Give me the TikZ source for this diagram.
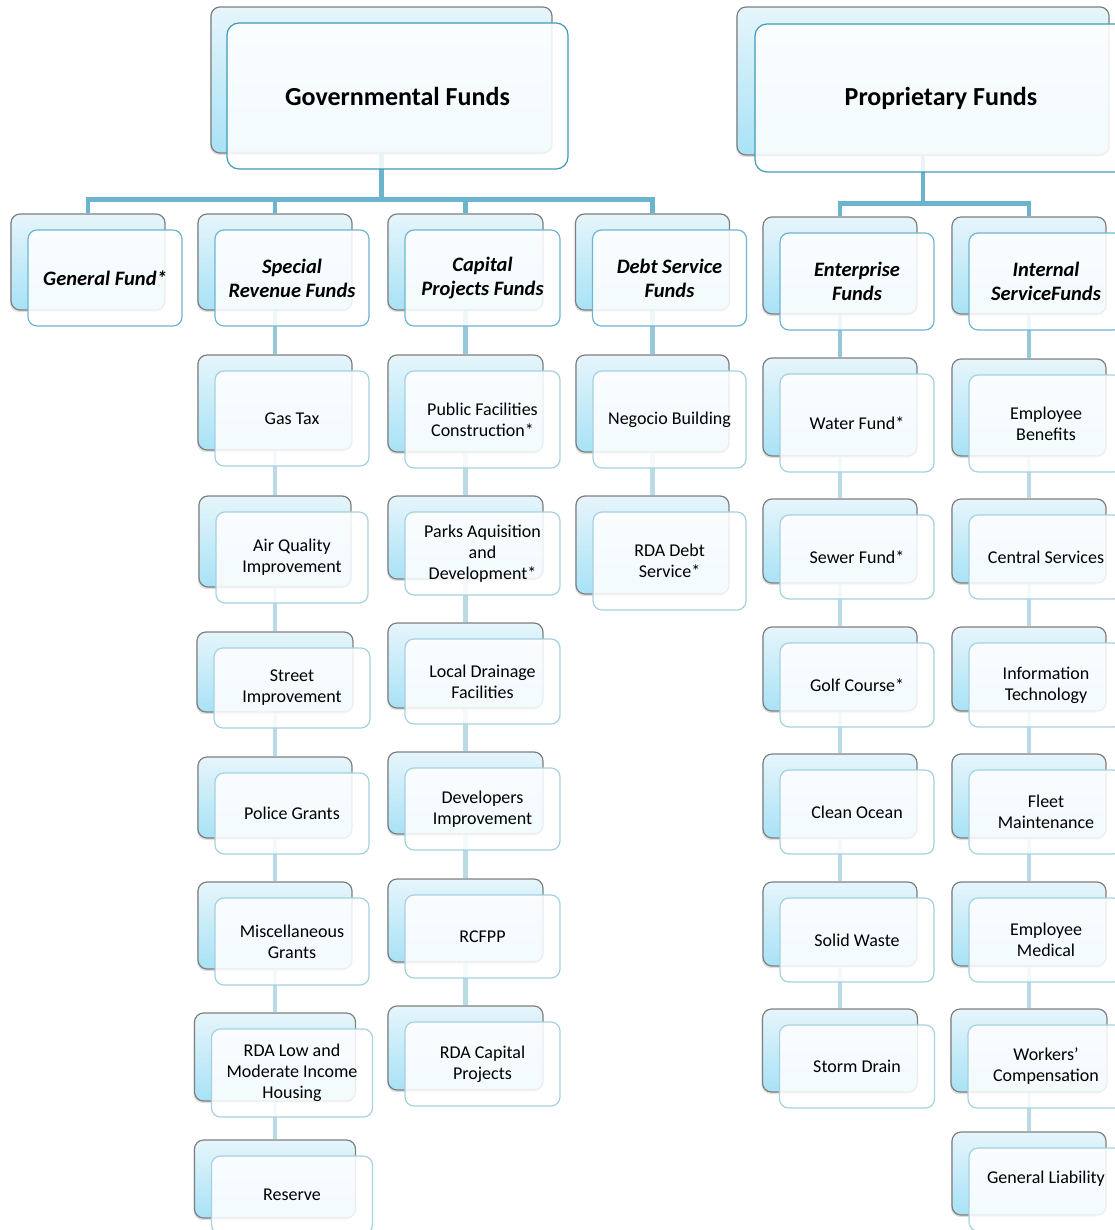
\documentclass[tikz,border=0pt]{standalone}
\usepackage{fontspec}
\setmainfont{Carlito}
\usetikzlibrary{shadows}

\definecolor{backline}{HTML}{7F7F7F}
\definecolor{backtop}{HTML}{E6F5FB}
\definecolor{backbot}{HTML}{A8E2F6}
\definecolor{rootline}{HTML}{3F9AB8}
\definecolor{headline}{HTML}{6CB7D0}
\definecolor{itemline}{HTML}{A6D1E0}
\definecolor{barcol}{HTML}{6AB4CD}
\definecolor{stemcol}{HTML}{96C8D9}
\definecolor{chaincol}{HTML}{BADAE5}

\pgfdeclarelayer{links}
\pgfsetlayers{links,main}

\begin{document}
\begin{tikzpicture}[
  x=1pt, y=-1pt,
  box/.style 2 args={minimum width=#1pt, minimum height=#2pt},
  back/.style={draw=backline, line width=1.2pt, rounded corners=9pt,
    top color=backtop, bottom color=backbot, inner sep=0pt,
    drop shadow={opacity=0.25, shadow xshift=-1pt, shadow yshift=-2pt}},
  front/.style={draw=itemline, line width=1.2pt, rounded corners=9pt,
    fill=white, fill opacity=0.86, text opacity=1, inner sep=0pt,
    align=center, font=\fontsize{18}{21}\selectfont},
  head/.style={front, draw=headline,
    font=\fontsize{20.5}{24}\selectfont\bfseries\itshape},
  root/.style={front, draw=rootline, rounded corners=12pt,
    font=\fontsize{26}{30}\selectfont\bfseries},
  % the three kinds of connector: root bar, head stem, column chain
  bar/.style={draw=barcol, line width=4.5pt},
  stem/.style={draw=stemcol, line width=4.5pt},
  chain/.style={draw=chaincol, line width=4.5pt}]

  \useasboundingbox (0,0) rectangle (1115,1230);

  % roots
  \node[back, box={341}{146}] (govB) at (381.5,80) {};
  \node[root, box={341}{146}] (gov) at ([shift={(16,16)}]govB) {Governmental Funds};
  \node[back, box={372}{148}] (propB) at (923,81) {};
  \node[root, box={372}{148}] (prop) at ([shift={(18,17)}]propB) {Proprietary Funds};

  % fund types
  \node[back, box={154}{96}] (genB) at (88,262) {};
  \node[head, box={154}{96}] (gen) at ([shift={(17,16)}]genB) {General Fund*};
  \node[back, box={154}{96}] (specB) at (275,262) {};
  \node[head, box={154}{96}] (spec) at ([shift={(17,16)}]specB) {Special\\Revenue Funds};
  \node[back, box={155}{96}] (capB) at (465.5,262) {};
  \node[head, box={155}{96}] (cap) at ([shift={(17,16)}]capB) {Capital\\Projects Funds};
  \node[back, box={154}{96}] (debtB) at (652.5,262) {};
  \node[head, box={154}{96}] (debt) at ([shift={(17,16)}]debtB) {Debt Service\\Funds};
  \node[back, box={154}{97}] (entB) at (840,265.5) {};
  \node[head, box={154}{97}] (ent) at ([shift={(17,16)}]entB) {Enterprise\\Funds};
  \node[back, box={154}{97}] (intB) at (1029,265.5) {};
  \node[head, box={154}{97}] (int) at ([shift={(17,16)}]intB) {Internal\\ServiceFunds};

  % special revenue
  \node[back, box={154}{95}] (gasB) at (275,402.5) {};
  \node[front, box={154}{95}] (gas) at ([shift={(17,16)}]gasB) {Gas Tax};
  \node[back, box={152}{91}] (airB) at (275,541.5) {};
  \node[front, box={152}{91}] (air) at ([shift={(17,16)}]airB) {Air Quality\\Improvement};
  \node[back, box={156}{80}] (streetB) at (275,672) {};
  \node[front, box={156}{80}] (street) at ([shift={(17,16)}]streetB) {Street\\Improvement};
  \node[back, box={154}{81}] (policeB) at (275,797.5) {};
  \node[front, box={154}{81}] (police) at ([shift={(17,16)}]policeB) {Police Grants};
  \node[back, box={154}{87}] (miscB) at (275,925.5) {};
  \node[front, box={154}{87}] (misc) at ([shift={(17,16)}]miscB) {Miscellaneous\\Grants};
  \node[back, box={161}{88}] (rdalowB) at (275,1057) {};
  \node[front, box={161}{88}] (rdalow) at ([shift={(17,16)}]rdalowB) {RDA Low and\\Moderate Income\\Housing};
  \node[back, box={161}{78}] (reserveB) at (275,1179) {};
  \node[front, box={161}{78}] (reserve) at ([shift={(17,16)}]reserveB) {Reserve};

  % capital projects
  \node[back, box={155}{97}] (pubB) at (465.5,403.5) {};
  \node[front, box={155}{97}] (pub) at ([shift={(17,16)}]pubB) {Public Facilities\\Construction*};
  \node[back, box={155}{83}] (parksB) at (465.5,537.5) {};
  \node[front, box={155}{83}] (parks) at ([shift={(17,16)}]parksB) {Parks Aquisition\\and\\Development*};
  \node[back, box={155}{85}] (drainB) at (465.5,665.5) {};
  \node[front, box={155}{85}] (drain) at ([shift={(17,16)}]drainB) {Local Drainage\\Facilities};
  \node[back, box={155}{82}] (devB) at (465.5,793) {};
  \node[front, box={155}{82}] (dev) at ([shift={(17,16)}]devB) {Developers\\Improvement};
  \node[back, box={155}{83}] (rcfppB) at (465.5,920.5) {};
  \node[front, box={155}{83}] (rcfpp) at ([shift={(17,16)}]rcfppB) {RCFPP};
  \node[back, box={155}{84}] (rdacapB) at (465.5,1048) {};
  \node[front, box={155}{84}] (rdacap) at ([shift={(17,16)}]rdacapB) {RDA Capital\\Projects};

  % debt service
  \node[back, box={153}{97}] (negB) at (652.5,403.5) {};
  \node[front, box={153}{97}] (neg) at ([shift={(17,16)}]negB) {Negocio Building};
  \node[back, box={153}{98}] (rdadebtB) at (652.5,545) {};
  \node[front, box={153}{98}] (rdadebt) at ([shift={(17,16)}]rdadebtB) {RDA Debt\\Service*};

  % enterprise
  \node[back, box={154}{98}] (waterB) at (840,407) {};
  \node[front, box={154}{98}] (water) at ([shift={(17,16)}]waterB) {Water Fund*};
  \node[back, box={154}{84}] (sewerB) at (840,541) {};
  \node[front, box={154}{84}] (sewer) at ([shift={(17,16)}]sewerB) {Sewer Fund*};
  \node[back, box={154}{84}] (golfB) at (840,669) {};
  \node[front, box={154}{84}] (golf) at ([shift={(17,16)}]golfB) {Golf Course*};
  \node[back, box={154}{84}] (cleanB) at (840,796) {};
  \node[front, box={154}{84}] (clean) at ([shift={(17,16)}]cleanB) {Clean Ocean};
  \node[back, box={154}{84}] (solidB) at (840,924) {};
  \node[front, box={154}{84}] (solid) at ([shift={(17,16)}]solidB) {Solid Waste};
  \node[back, box={155}{83}] (stormB) at (840,1050.5) {};
  \node[front, box={155}{83}] (storm) at ([shift={(17,16)}]stormB) {Storm Drain};

  % internal service
  \node[back, box={154}{97}] (benB) at (1029,407.5) {};
  \node[front, box={154}{97}] (ben) at ([shift={(17,16)}]benB) {Employee\\Benefits};
  \node[back, box={154}{84}] (centralB) at (1029,541) {};
  \node[front, box={154}{84}] (central) at ([shift={(17,16)}]centralB) {Central Services};
  \node[back, box={154}{84}] (itB) at (1029,669) {};
  \node[front, box={154}{84}] (it) at ([shift={(17,16)}]itB) {Information\\Technology};
  \node[back, box={154}{84}] (fleetB) at (1029,796) {};
  \node[front, box={154}{84}] (fleet) at ([shift={(17,16)}]fleetB) {Fleet\\Maintenance};
  \node[back, box={154}{84}] (medB) at (1029,924) {};
  \node[front, box={154}{84}] (med) at ([shift={(17,16)}]medB) {Employee\\Medical};
  \node[back, box={156}{83}] (workersB) at (1029,1050.5) {};
  \node[front, box={156}{83}] (workers) at ([shift={(17,16)}]workersB) {Workers'\\Compensation};
  \node[back, box={154}{83}] (liabB) at (1029,1173.5) {};
  \node[front, box={154}{83}, text depth=25pt] (liab) at ([shift={(17,16)}]liabB) {General Liability};

  % connectors, kept behind the boxes
  \begin{pgfonlayer}{links}
    \foreach \k in {genB,specB,capB,debtB}
      \draw[bar] (govB.south) -- ++(0,46) -| (\k.north);
    \foreach \k in {entB,intB}
      \draw[bar] (propB.south) -- ++(0,48) -| (\k.north);
    \foreach \a/\b in {specB/gasB, capB/pubB, debtB/negB, entB/waterB, intB/benB}
      \draw[stem] (\a.south) -- (\b.north);
    \foreach \a/\b in {gasB/airB, airB/streetB, streetB/policeB, policeB/miscB,
        miscB/rdalowB, rdalowB/reserveB,
        pubB/parksB, parksB/drainB, drainB/devB, devB/rcfppB, rcfppB/rdacapB,
        negB/rdadebtB,
        waterB/sewerB, sewerB/golfB, golfB/cleanB, cleanB/solidB, solidB/stormB,
        benB/centralB, centralB/itB, itB/fleetB, fleetB/medB, medB/workersB,
        workersB/liabB}
      \draw[chain] (\a.south) -- (\b.north);
  \end{pgfonlayer}
\end{tikzpicture}
\end{document}
